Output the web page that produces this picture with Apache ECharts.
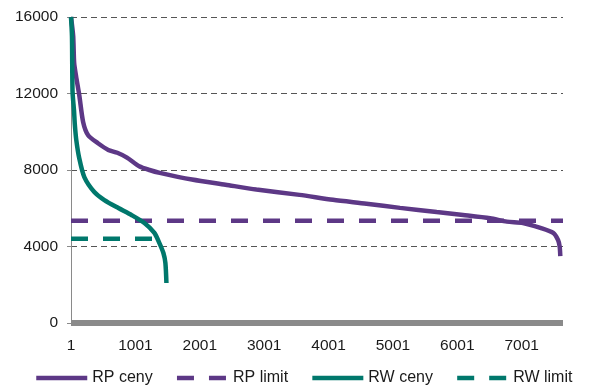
<!DOCTYPE html>
<html>
<head>
<meta charset="utf-8">
<script src="https://cdn.jsdelivr.net/npm/echarts@6/dist/echarts.min.js"></script>
<style>
  html, body { margin: 0; padding: 0; background: #fff; }
  #chart { width: 592px; height: 392px; }
</style>
</head>
<body>
<div id="chart"></div>
<script>
// Sorted price curves: position in ranking -> price
const xTicks = [1, 1001, 2001, 3001, 4001, 5001, 6001, 7001];
const yTicks = [0, 4000, 8000, 12000, 16000];
const xMax = 7642;

const seriesNames = ['RP ceny', 'RP limit', 'RW ceny', 'RW limit'];

const rpPos = [1, 35, 50, 80, 130, 190, 270, 420, 580, 720, 870, 1060, 1220, 1380, 1880, 2400, 2880, 3550, 4070, 4590, 5110, 5680, 6090, 6510, 6770, 7020, 7290, 7490, 7565, 7590, 7600];
const rpPrice = [16000, 15000, 13600, 12900, 11900, 10500, 9800, 9400, 9050, 8900, 8650, 8200, 8000, 7850, 7500, 7230, 6980, 6700, 6440, 6240, 6020, 5800, 5650, 5480, 5300, 5230, 4970, 4710, 4340, 4000, 3500];

const rwPos = [1, 16, 25, 48, 60, 83, 130, 208, 363, 519, 737, 939, 1141, 1296, 1374, 1436, 1467, 1483];
const rwPrice = [16000, 15000, 12100, 11100, 10400, 9570, 8600, 7630, 6850, 6430, 6010, 5650, 5230, 4710, 4180, 3660, 3140, 2090];

const rpLimit = 5350;
const rwLimit = 4400;

const purple = '#5D3886';
const teal = '#00786C';
const font = 'Liberation Sans, Arial, sans-serif';

const pairs = (xs, ys) => xs.map((x, i) => [x, ys[i]]);

const chart = echarts.init(document.getElementById('chart'), null, { renderer: 'canvas' });

chart.setOption({
  animation: false,
  backgroundColor: '#fff',
  grid: { left: 71, right: 29, top: 17, bottom: 69, containLabel: false },
  legend: {
    data: seriesNames,
    left: 34,
    top: 370,
    width: 560,
    padding: 0,
    itemWidth: 51,
    itemHeight: 16,
    itemGap: 22,
    itemStyle: { opacity: 0 },
    lineStyle: { width: 4.5 },
    textStyle: { fontFamily: font, fontSize: 16, color: '#1a1a1a' }
  },
  xAxis: {
    type: 'value',
    min: 1,
    max: xMax,
    offset: 3,
    axisLine: { show: true, lineStyle: { color: '#8a8a8a', width: 6, cap: 'butt' } },
    axisTick: { show: false },
    splitLine: { show: false },
    axisLabel: {
      customValues: xTicks,
      formatter: (v) => String(v),
      margin: 12,
      fontFamily: font,
      fontSize: 15.5,
      color: '#1a1a1a'
    }
  },
  yAxis: {
    type: 'value',
    min: yTicks[0],
    max: yTicks[yTicks.length - 1],
    interval: 4000,
    axisLine: { show: true, lineStyle: { color: '#8a8a8a', width: 1 } },
    axisTick: { show: true, length: 4, lineStyle: { color: '#8a8a8a' } },
    splitLine: { show: true, lineStyle: { color: '#555', width: 1, type: [6, 4] } },
    axisLabel: {
      formatter: (v) => String(v),
      margin: 13,
      fontFamily: font,
      fontSize: 15.5,
      color: '#1a1a1a'
    }
  },
  series: [
    {
      name: 'RP ceny',
      type: 'line',
      data: pairs(rpPos, rpPrice),
      symbol: 'none',
      smooth: 0.25,
      lineStyle: { color: purple, width: 4.5 },
      itemStyle: { color: purple }
    },
    {
      name: 'RP limit',
      type: 'line',
      data: [[1, rpLimit], [xMax, rpLimit]],
      symbol: 'none',
      lineStyle: { color: purple, width: 4.5, type: [17, 15] },
      itemStyle: { color: purple }
    },
    {
      name: 'RW ceny',
      type: 'line',
      data: pairs(rwPos, rwPrice),
      symbol: 'none',
      smooth: 0.25,
      lineStyle: { color: teal, width: 4.5 },
      itemStyle: { color: teal }
    },
    {
      name: 'RW limit',
      type: 'line',
      data: [[1, rwLimit], [rwPos[rwPos.length - 1], rwLimit]],
      symbol: 'none',
      lineStyle: { color: teal, width: 4.5, type: [17, 15] },
      itemStyle: { color: teal }
    }
  ]
});
</script>
</body>
</html>
